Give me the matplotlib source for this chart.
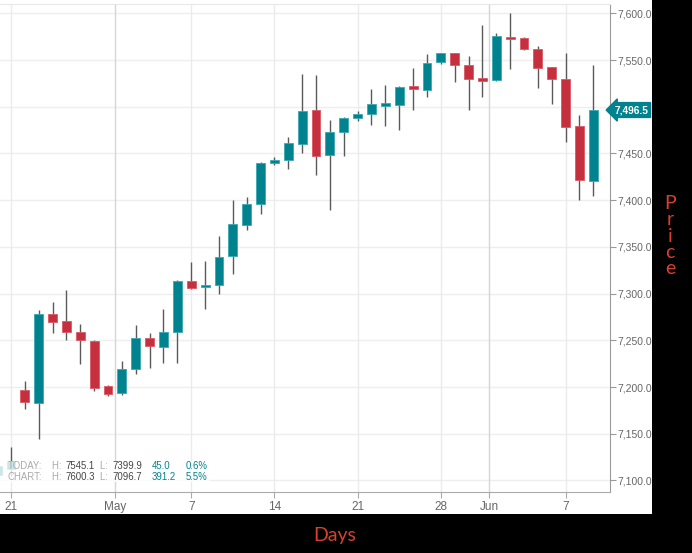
import numpy as np
import matplotlib
matplotlib.use("Agg")
import matplotlib.pyplot as plt
from matplotlib.patches import Rectangle
from matplotlib.ticker import FuncFormatter
import matplotlib.transforms as mtransforms

# daily candles, first one is only partly visible at the left edge
opens = [7106, 7112, 7197, 7183, 7278, 7271, 7259, 7249, 7201, 7194, 7219,
         7252, 7243, 7259, 7313, 7307, 7309, 7340, 7373, 7396, 7440, 7443,
         7460, 7496, 7448, 7473, 7488, 7492, 7501, 7502, 7522, 7518, 7548,
         7557, 7545, 7531, 7529, 7575, 7574, 7562, 7543, 7530, 7479, 7421]
highs = [7118, 7136, 7206, 7282, 7291, 7304, 7268, 7250, 7202, 7228, 7266,
         7258, 7283, 7315, 7334, 7335, 7362, 7400, 7403, 7441, 7446, 7468,
         7535, 7534, 7486, 7489, 7495, 7519, 7523, 7522, 7541, 7556, 7558,
         7558, 7554, 7588, 7579, 7600.3, 7575, 7565, 7543, 7557, 7491, 7545.1]
lows = [7096.7, 7105, 7176, 7144, 7258, 7250, 7225, 7196, 7190, 7192, 7214,
        7220, 7226, 7226, 7305, 7284, 7300, 7321, 7368, 7385, 7437.5, 7433,
        7451, 7427, 7390, 7447, 7485, 7481, 7479, 7475, 7496, 7510, 7546,
        7526, 7497, 7510, 7528, 7540, 7561, 7520, 7503, 7462, 7399.9, 7405]
closes = [7115, 7121, 7184, 7278, 7270, 7259, 7250, 7199, 7193, 7219, 7253,
          7244, 7259, 7313, 7306, 7309, 7339, 7375, 7396, 7440, 7443, 7461,
          7495, 7447, 7473, 7488, 7492, 7503, 7504, 7521, 7519, 7547, 7557,
          7545, 7530, 7528, 7576, 7572, 7562, 7542, 7530, 7478, 7422, 7496.5]

tick_pos = [0, 7.5, 13, 19, 25, 31, 34.5, 40]
tick_labels = ["21", "May", "7", "14", "21", "28", "Jun", "7"]
month_ticks = ["May", "Jun"]

today_vals = ["TODAY:", "7545.1", "7399.9", "45.0", "0.6%"]
chart_vals = ["CHART:", "7600.3", "7096.7", "391.2", "5.5%"]

teal = "#00838f"
red = "#c62f3d"

fig = plt.figure(figsize=(6.92, 5.53), dpi=100, facecolor="black")
# white chart panel, the rest of the figure stays black
fig.patches.append(Rectangle((0, 0.07), 0.9418, 0.93, transform=fig.transFigure,
                             facecolor="white", edgecolor="none", zorder=-10))

ax = fig.add_axes([0, 0.1109, 0.8815, 0.8819])
ax.set_facecolor("white")

x = np.arange(len(opens)) - 1
o = np.array(opens)
h = np.array(highs)
l = np.array(lows)
c = np.array(closes)
up = c >= o
colors = np.where(up, teal, red)
edges = np.where(up, "#3aa7b1", "#dc5a66")

ax.vlines(x, l, h, color="#5a5a5a", linewidth=1, zorder=3)
body_bottom = np.minimum(o, c)
body_height = np.maximum(np.abs(c - o), 2.6)
ax.bar(x, body_height, bottom=body_bottom, width=0.64, color=colors,
       edgecolor=edges, linewidth=0.6, zorder=4)

ax.set_xlim(-0.79, 43.2)
ax.set_ylim(7088, 7610)

# grid
ax.set_yticks(np.arange(7100, 7601, 50))
ax.yaxis.grid(True, color="#eeeeee", linewidth=1, zorder=0)
for pos, lab in zip(tick_pos, tick_labels):
    gc = "#d6d6d6" if lab in month_ticks else "#ebebeb"
    ax.axvline(pos, color=gc, linewidth=1, zorder=1)
ax.set_axisbelow(True)

ax.yaxis.tick_right()
# the 7,500.0 label sits under the last price tag
ax.yaxis.set_major_formatter(
    FuncFormatter(lambda v, _: "" if abs(v - 7500) < 1 else f"{v:,.1f}"))
ax.set_xticks(tick_pos)
ax.set_xticklabels(tick_labels)
ax.tick_params(axis="y", which="both", length=4, width=0.8, color="#999999",
               labelsize=7.5, labelcolor="#666666", pad=1)
ax.tick_params(axis="x", length=4, width=0.8, color="#aaaaaa",
               labelsize=8.5, labelcolor="#666666", pad=3)
for lab in ax.get_xticklabels() + ax.get_yticklabels():
    lab.set_fontfamily("Liberation Sans")

ax.spines["left"].set_visible(False)
ax.spines["top"].set_color("#e8e8e8")
ax.spines["right"].set_color("#9a9a9a")
ax.spines["bottom"].set_color("#aaaaaa")

# last price tag on the right axis
trans = mtransforms.blended_transform_factory(ax.transAxes, ax.transData)
ax.text(1.007, closes[-1], f"{closes[-1]:,.1f}", transform=trans, ha="left",
        va="center", fontsize=7.3, fontweight="bold", color="white",
        family="Liberation Sans", clip_on=False, zorder=6,
        bbox=dict(boxstyle="larrow,pad=0.24", facecolor=teal, edgecolor=teal))

# info overlay at bottom left
ax.add_patch(Rectangle((0, 0.02), 0.344, 0.043, transform=ax.transAxes,
                       facecolor="white", edgecolor="none", alpha=0.8, zorder=5))
for row, vals in zip([0.052, 0.031], [today_vals, chart_vals]):
    kw = dict(transform=ax.transAxes, va="center", fontsize=6.9,
              family="Liberation Sans", zorder=6)
    ax.text(0.012, row, vals[0], color="#aaaaaa", **kw)
    ax.text(0.085, row, "H: ", color="#aaaaaa", **kw)
    ax.text(0.107, row, vals[1], color="#444444", **kw)
    ax.text(0.164, row, "L: ", color="#aaaaaa", **kw)
    ax.text(0.185, row, vals[2], color="#444444", **kw)
    ax.text(0.249, row, vals[3], color=teal, **kw)
    ax.text(0.305, row, vals[4], color=teal, **kw)

# axis titles on the black border
fig.text(335 / 692, 1 - 535 / 553, "Days", color="#d8402f", fontsize=14,
         family="Lato", ha="center", va="center")
fig.text(670 / 692, 1 - 236 / 553, "P\nr\ni\nc\ne", color="#d8402f",
         fontsize=14, family="Lato", ha="center",
         va="center", linespacing=0.95)

fig.savefig("out.png", dpi=100, facecolor="black")
